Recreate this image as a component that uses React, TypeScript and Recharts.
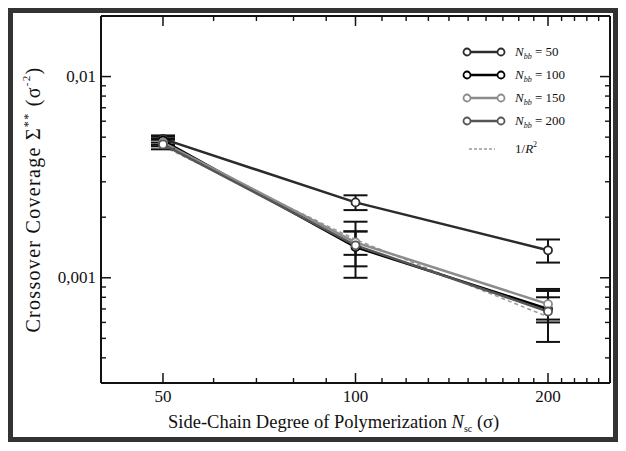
import React from 'react';
import { ComposedChart, Line, Scatter, XAxis, YAxis, ErrorBar, Legend } from 'recharts';

// side-chain length N_sc (x) and crossover coverage per backbone length
const nsc = [50, 100, 200];
const nbbValues = [50, 100, 150, 200];
const nbb50 = [0.0049, 0.00237, 0.00137];
const nbb50Err = [0.0002, 0.0002, 0.00018];
const nbb100 = [0.0048, 0.00142, 0.0007];
const nbb100Err = [0.00022, 0.00028, 0.0001];
const nbb150 = [0.0047, 0.0015, 0.00074];
const nbb150Err = [0.0002, 0.0002, 0.00012];
const nbb200 = [0.0046, 0.00145, 0.00068];
const nbb200Err = [0.00025, 0.00045, 0.0002];
const invR2 = [0.0045, 0.00155, 0.00064];

const xDomain = [40, 250];
const yDomain = [0.0003, 0.02];
const xMajor = [50, 100, 200];
const xMinor = [60, 70, 80, 90, 110, 120, 130, 140, 150, 160, 170, 180, 190, 210, 220, 230, 240];
const yMajor = [0.001, 0.01];
const yMajorLabels = ['0,001', '0,01'];
const yMinor = [
  0.0004, 0.0005, 0.0006, 0.0007, 0.0008, 0.0009,
  0.002, 0.003, 0.004, 0.005, 0.006, 0.007, 0.008, 0.009,
];

const data = nsc.map((x, i) => ({
  x,
  n50: nbb50[i], e50: nbb50Err[i],
  n100: nbb100[i], e100: nbb100Err[i],
  n150: nbb150[i], e150: nbb150Err[i],
  n200: nbb200[i], e200: nbb200Err[i],
  r2: invR2[i],
}));

// minor tick anchors on each edge of the plot box
const minorBottom = xMinor.map((v) => ({ x: v, t: yDomain[0] }));
const minorTop = xMinor.map((v) => ({ x: v, t: yDomain[1] }));
const minorLeft = yMinor.map((v) => ({ x: xDomain[0], t: v }));
const minorRight = yMinor.map((v) => ({ x: xDomain[1], t: v }));

const series = [
  { key: 'n50', err: 'e50', color: '#2b2b2b' },
  { key: 'n100', err: 'e100', color: '#000000' },
  { key: 'n150', err: 'e150', color: '#8c8c8c' },
  { key: 'n200', err: 'e200', color: '#555555' },
];

const FONT = '"Liberation Serif", "Times New Roman", serif';

const minorShape = (dx: number, dy: number) => (p: any) => (
  <line x1={p.cx} y1={p.cy} x2={p.cx + dx} y2={p.cy + dy} stroke="#111" strokeWidth={1.4} />
);

const AxisTick = (props: any) => {
  const { x, y, payload, side } = props;
  const v = payload.value;
  const len = 10;
  if (side === 'bottom') {
    return (
      <g>
        <line x1={x} x2={x} y1={y} y2={y - len} stroke="#111" strokeWidth={1.5} />
        <text x={x} y={y + 19} textAnchor="middle" fontSize={17} fontFamily={FONT} fill="#111">
          {v}
        </text>
      </g>
    );
  }
  if (side === 'top') {
    return <line x1={x} x2={x} y1={y} y2={y + len} stroke="#111" strokeWidth={1.5} />;
  }
  if (side === 'left') {
    const idx = yMajor.indexOf(v);
    return (
      <g>
        <line x1={x} x2={x + len} y1={y} y2={y} stroke="#111" strokeWidth={1.5} />
        <text x={x - 5} y={y + 5} textAnchor="end" fontSize={17} fontFamily={FONT} fill="#111">
          {yMajorLabels[idx]}
        </text>
      </g>
    );
  }
  return <line x1={x} x2={x - len} y1={y} y2={y} stroke="#111" strokeWidth={1.5} />;
};

const XTitle = (props: any) => {
  const { viewBox } = props;
  return (
    <text x={viewBox.x + 67} y={viewBox.y + 45} fontSize={18.5} fontFamily={FONT} fill="#111">
      Side-Chain Degree of Polymerization{'  '}
      <tspan fontStyle="italic">N</tspan>
      <tspan dy={4} fontSize={10}>sc</tspan>
      <tspan dy={-4}> (σ)</tspan>
    </text>
  );
};

const YTitle = (props: any) => {
  const { viewBox } = props;
  const cx = viewBox.x + viewBox.width - 68;
  const cy = viewBox.y + viewBox.height / 2;
  return (
    <text
      x={cx}
      y={cy}
      transform={`rotate(-90 ${cx} ${cy})`}
      textAnchor="middle"
      dominantBaseline="central"
      fontSize={20}
      letterSpacing={1.3}
      fontFamily={FONT}
      fill="#111"
    >
      Crossover Coverage Σ<tspan dy={-5} fontSize={12}>**</tspan>
      <tspan dy={5}> (σ</tspan>
      <tspan dy={-7} fontSize={11}>-2</tspan>
      <tspan dy={7}>)</tspan>
    </text>
  );
};

const LegendBox = () => (
  <svg width={160} height={125} style={{ overflow: 'visible' }}>
    {series.map((s, i) => {
      const y = 10 + i * 23;
      return (
        <g key={s.key}>
          <line x1={4} x2={38} y1={y} y2={y} stroke={s.color} strokeWidth={2.5} />
          <circle cx={4} cy={y} r={3.5} fill="#fff" stroke={s.color} strokeWidth={1.8} />
          <circle cx={38} cy={y} r={3.5} fill="#fff" stroke={s.color} strokeWidth={1.8} />
          <text x={52} y={y + 4} fontSize={13} fontFamily={FONT} fill="#111">
            <tspan fontStyle="italic">N</tspan>
            <tspan dy={3} fontSize={8} fontStyle="italic">bb</tspan>
            <tspan dy={-3}> = {nbbValues[i]}</tspan>
          </text>
        </g>
      );
    })}
    <line x1={6} x2={32} y1={107} y2={107} stroke="#9a9a9a" strokeWidth={1.5} strokeDasharray="3 2" />
    <text x={52} y={111} fontSize={13} fontFamily={FONT} fill="#111">
      1/<tspan fontStyle="italic">R</tspan>
      <tspan dy={-6} fontSize={8}>2</tspan>
    </text>
  </svg>
);

export default function App() {
  return (
    <div style={{ position: 'relative', width: 610, height: 434 }}>
      <ComposedChart
        width={610}
        height={434}
        data={data}
        margin={{ top: 7, right: 7, bottom: 0, left: 0 }}
        style={{ background: '#fff' }}
      >
        <XAxis
          dataKey="x"
          type="number"
          scale="log"
          domain={xDomain}
          allowDataOverflow
          ticks={xMajor}
          interval={0}
          height={59}
          tickSize={0}
          tickMargin={0}
          axisLine={{ stroke: '#111', strokeWidth: 2 }}
          tick={<AxisTick side="bottom" />}
          label={<XTitle />}
        />
        <XAxis
          xAxisId="top"
          orientation="top"
          dataKey="x"
          type="number"
          scale="log"
          domain={xDomain}
          allowDataOverflow
          ticks={xMajor}
          interval={0}
          height={1}
          tickSize={0}
          tickMargin={0}
          axisLine={{ stroke: '#111', strokeWidth: 2 }}
          tick={<AxisTick side="top" />}
        />
        <YAxis
          dataKey="t"
          type="number"
          scale="log"
          domain={yDomain}
          allowDataOverflow
          ticks={yMajor}
          interval={0}
          width={93}
          tickSize={0}
          tickMargin={0}
          axisLine={{ stroke: '#111', strokeWidth: 2 }}
          tick={<AxisTick side="left" />}
          label={<YTitle />}
        />
        <YAxis
          yAxisId="right"
          orientation="right"
          type="number"
          scale="log"
          domain={yDomain}
          allowDataOverflow
          ticks={yMajor}
          interval={0}
          width={1}
          tickSize={0}
          tickMargin={0}
          axisLine={{ stroke: '#111', strokeWidth: 2 }}
          tick={<AxisTick side="right" />}
        />
        <Scatter data={minorBottom} dataKey="t" shape={minorShape(0, -5)} legendType="none" isAnimationActive={false} />
        <Scatter data={minorTop} dataKey="t" shape={minorShape(0, 5)} legendType="none" isAnimationActive={false} />
        <Scatter data={minorLeft} dataKey="t" shape={minorShape(5, 0)} legendType="none" isAnimationActive={false} />
        <Scatter data={minorRight} dataKey="t" shape={minorShape(-5, 0)} legendType="none" isAnimationActive={false} />
        <Legend
          layout="vertical"
          align="center"
          verticalAlign="middle"
          content={<LegendBox />}
          wrapperStyle={{ position: 'absolute', left: 455, top: 34, width: 160 }}
        />
        <Line
          dataKey="r2"
          stroke="#9a9a9a"
          strokeWidth={1.5}
          strokeDasharray="4 3"
          dot={false}
          isAnimationActive={false}
        />
        {series.map((s) => (
          <Line
            key={s.key}
            dataKey={s.key}
            stroke={s.color}
            strokeWidth={2.5}
            dot={{ r: 4, fill: '#fff', stroke: s.color, strokeWidth: 1.8 }}
            isAnimationActive={false}
          >
            <ErrorBar dataKey={s.err} direction="y" width={12} stroke="#111" strokeWidth={2} />
          </Line>
        ))}
      </ComposedChart>
      <div
        style={{
          position: 'absolute',
          inset: 0,
          border: '5px solid #333',
          boxSizing: 'border-box',
          pointerEvents: 'none',
        }}
      />
    </div>
  );
}
